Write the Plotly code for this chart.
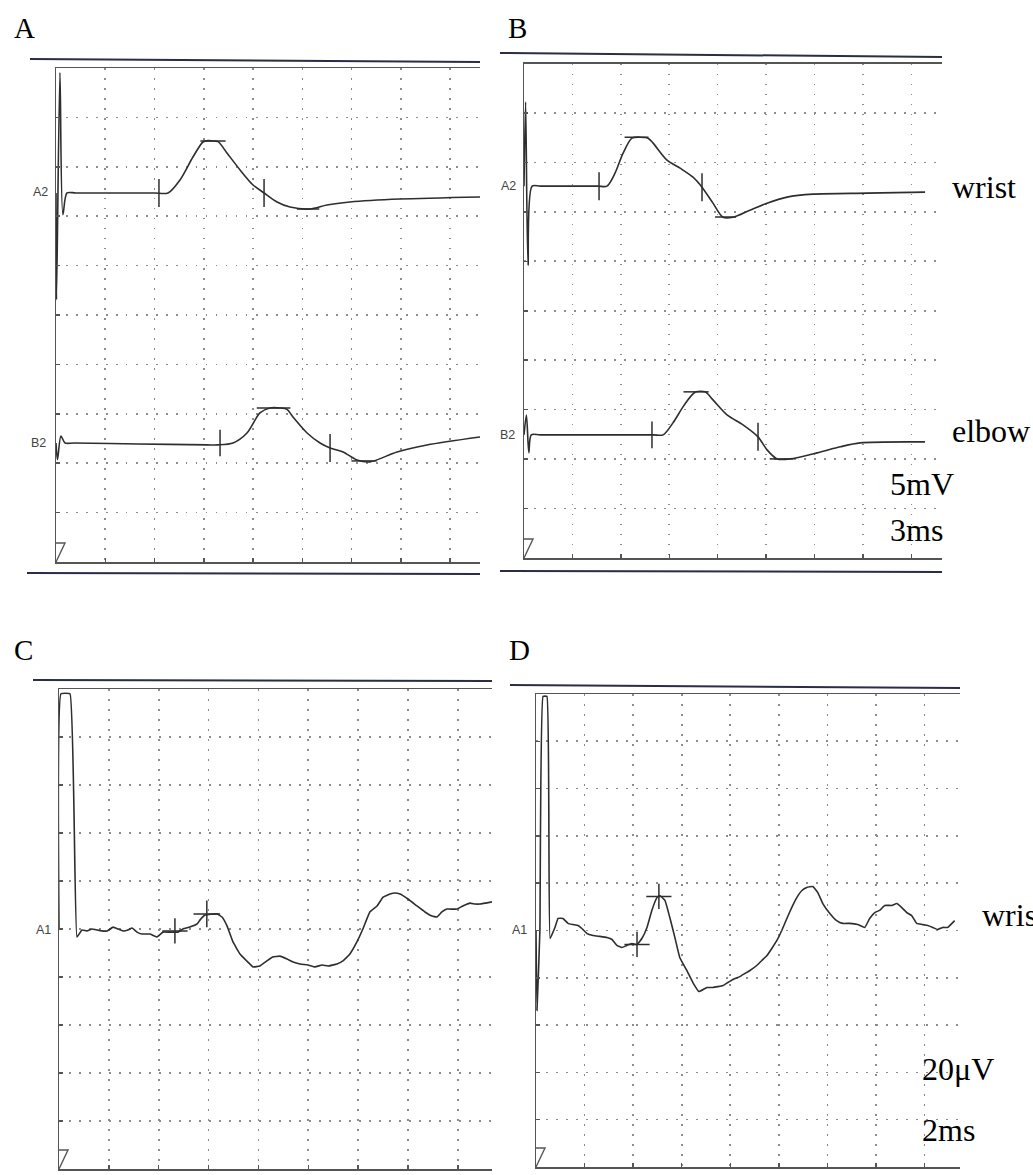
import plotly.graph_objects as go

W, H = 1033, 1175

# ---------------- data ----------------
# Panel A / B : 3 ms/div, 5 mV/div  (time in ms, amplitude in mV relative to baseline)
A_A2_t = [0, 0.03, 0.24, 0.42, 0.67, 1.2, 3.5, 6.0, 6.82, 7.55, 8.34, 8.95, 9.26, 9.56, 9.87,
          10.41, 11.21, 12.0, 12.67, 13.46, 14.25, 15.47, 16.5, 17.9, 20.95, 25.82]
A_A2_v = [0, -10.8, 12.2, -2.2, 0, 0, 0, 0, 0, 1.32, 3.64, 5.16, 5.3, 5.26, 5.2,
          4.05, 2.33, 0.81, 0, -0.91, -1.42, -1.62, -1.21, -0.91, -0.61, -0.40]
A_A2_cur_t = [6.27, 9.56, 12.67, 15.35]
A_A2_cur_v = [0, 5.26, 0, -1.62]

A_B2_t = [0, 0.09, 0.30, 0.55, 1.1, 5.0, 9.2, 9.87, 10.78, 11.63, 12.42, 13.03, 13.64, 14.07,
          14.43, 15.29, 16.08, 16.69, 17.48, 18.33, 19.12, 20.77, 22.59, 25.82]
A_B2_v = [0, -1.7, 0.7, 0, 0, -0.1, -0.2, -0.2, 0, 1.01, 3.04, 3.54, 3.54, 3.4,
          2.63, 1.01, 0, -0.51, -0.91, -1.72, -1.92, -0.91, -0.2, 0.61]
A_B2_cur_t = [9.99, 13.25, 16.69, 18.76]
A_B2_cur_v = [0, 3.54, -0.51, -1.82]

B_A2_t = [0, 0.1, 0.25, 0.5, 1.0, 3.0, 4.6, 5.14, 5.64, 6.14, 6.69, 7.19, 7.69, 8.0, 8.86, 9.67,
          10.47, 11.03, 11.71, 12.33, 12.95, 14.0, 15.06, 16.3, 17.91, 21.26, 24.85]
B_A2_v = [0, 8.5, -8.0, 0, 0, 0, 0, 0, 1.31, 3.34, 4.85, 4.95, 4.85, 4.35, 2.63, 1.82,
          0.91, -0.1, -1.72, -3.14, -3.14, -2.43, -1.72, -1.11, -0.81, -0.71, -0.61]
B_A2_cur_t = [4.65, 6.97, 11.03, 12.49]
B_A2_cur_v = [0, 4.95, -0.1, -3.13]

B_B2_t = [0, 0.15, 0.3, 0.45, 1.0, 4.5, 8.0, 8.62, 9.23, 9.85, 10.41, 10.66, 11.22, 11.71, 12.58,
          13.57, 14.5, 15.06, 15.68, 16.49, 18.16, 19.59, 20.83, 24.85]
B_B2_v = [0, 2.0, -1.8, 0, 0, 0, 0, 0, 1.21, 2.83, 4.04, 4.35, 4.35, 3.54, 2.02,
          1.01, -0.2, -1.52, -2.43, -2.43, -1.82, -1.21, -0.81, -0.71]
B_B2_cur_t = [7.93, 10.66, 14.5, 15.96]
B_B2_cur_v = [0, 4.35, -0.2, -2.43]

# Panel C / D : 2 ms/div, 20 uV/div (time in ms, amplitude in uV)
C_A1_t = [0, 0.08, 0.44, 0.72, 0.92, 1.12, 1.32, 1.52, 1.72, 1.93, 2.17, 2.37, 2.57, 2.77,
          2.93, 3.13, 3.33, 3.65, 3.93, 4.17, 4.45, 4.77, 4.97, 5.25, 5.54, 5.66, 5.86, 6.34,
          6.54, 6.74, 6.98, 7.26, 7.58, 7.78, 8.06, 8.34, 8.58, 8.86, 9.15, 9.39, 9.67, 9.99,
          10.27, 10.55, 10.79, 11.15, 11.39, 11.67, 11.95, 12.19, 12.47, 12.76, 13.0, 13.28,
          13.48, 13.68, 14.0, 14.36, 14.68, 14.96, 15.16, 15.36, 15.56, 15.96, 16.2, 16.49,
          16.69, 16.89, 17.37]
C_A1_v = [0, 98, 98, -3.3, -0.4, -0.8, 0, -0.4, -0.8, -0.8, 0.8, 0, -0.8, -0.4,
          0.4, -1.3, -2.1, -2.1, -3.3, -1.3, -1.3, -1.3, 0, 0.8, 2.1, 3.8, 5.8, 6.3,
          5.0, 1.3, -5.4, -10.4, -13.8, -15.8, -15.4, -13.3, -11.7, -11.3, -12.5, -13.8, -14.6, -15.0,
          -15.8, -15.0, -15.4, -14.6, -13.3, -10.4, -5.4, 0, 7.1, 9.6, 13.3, 14.6,
          15.0, 14.6, 12.5, 9.6, 7.1, 5.4, 5.0, 7.1, 8.3, 8.3, 9.6, 10.8,
          10.4, 10.4, 11.3]
C_cur_t = [4.65, 5.93]
C_cur_v = [-0.8, 6.3]

D_A1_t = [0, 0.04, 0.16, 0.29, 0.45, 0.58, 0.78, 0.91, 1.11, 1.32, 1.52, 1.73, 1.89, 2.10,
          2.35, 2.63, 2.92, 3.13, 3.33, 3.54, 3.74, 3.95, 4.16, 4.36, 4.57, 4.77, 4.98, 5.10,
          5.31, 5.51, 5.72, 5.92, 6.21, 6.46, 6.71, 7.04, 7.28, 7.70, 7.90, 8.11, 8.39, 8.60,
          8.81, 9.09, 9.30, 9.51, 9.71, 9.92, 10.12, 10.33, 10.53, 10.74, 10.95, 11.15, 11.40,
          11.60, 11.81, 12.10, 12.38, 12.63, 12.92, 13.25, 13.54, 13.74, 13.95, 14.15, 14.36,
          14.65, 14.86, 15.06, 15.27, 15.47, 15.68, 15.93, 16.13, 16.34, 16.54, 16.75, 16.95,
          17.24]
D_A1_v = [0, -33.8, 0, 99, 99, -3.4, 1.3, 5.1, 5.1, 3.0, 2.5, 2.1, 0.85, -1.3,
          -2.1, -2.5, -3.0, -3.8, -6.3, -7.2, -6.3, -5.5, -5.9, -3.4, 1.3, 8.5, 13.9, 14.8,
          12.7, 5.5, -3.0, -11.4, -16.9, -22.0, -25.8, -24.1, -24.1, -23.3, -22.0, -20.7, -19.5, -18.2,
          -16.9, -14.8, -12.7, -10.6, -7.6, -4.2, 0, 5.1, 9.7, 13.9, 16.9, 18.2, 18.6,
          16.1, 11.4, 7.2, 4.2, 3.0, 3.0, 2.5, 1.3, 5.1, 7.6, 8.5, 10.6,
          10.6, 11.4, 9.7, 7.6, 6.3, 3.0, 2.5, 2.1, 1.3, 0.4, 1.3, 1.3,
          4.2]
D_cur_t = [4.16, 5.06]
D_cur_v = [-5.9, 14.4]

# ---------------- layout helpers ----------------
def PX(x):
    return x / W

def PY(y):
    return 1 - y / H

TRACE = '#2e2e2e'
FRAME = '#555555'
OUTER = '#2a2d45'
GRID = '#8c8c8c'

# panel frames in pixels: left, right, top, bottom, ms/div, range x, yrange, ydtick
panels = {
    'A': dict(l=56, r=480, t=68, b=562, dt=3, xr=[0, 25.82], yr=[0, 50], dy=5),
    'B': dict(l=524, r=942, t=63.5, b=558, dt=3, xr=[0, 25.9], yr=[0, 50], dy=5),
    'C': dict(l=59, r=492, t=689, b=1169, dt=2, xr=[0, 17.37], yr=[-100, 100], dy=20),
    'D': dict(l=536, r=960, t=694, b=1167, dt=2, xr=[0, 17.46], yr=[-100, 100], dy=20),
}
# baseline offsets (mV) for the two channels of panels A and B
A_OFF = {'A2': 37.35, 'B2': 12.05}
B_OFF = {'A2': 37.6, 'B2': 12.45}

fig = go.Figure()
layout = dict(width=W, height=H, margin=dict(l=0, r=0, t=0, b=0),
              paper_bgcolor='white', plot_bgcolor='white', showlegend=False)

for i, (name, p) in enumerate(panels.items()):
    sfx = '' if i == 0 else str(i + 1)
    layout['xaxis' + sfx] = dict(
        domain=[PX(p['l']), PX(p['r'])], range=p['xr'], tick0=0, dtick=p['dt'],
        showgrid=True, gridcolor=GRID, griddash='1.5px,8.5px', gridwidth=1.6,
        zeroline=False, showline=True, linecolor=FRAME, linewidth=1.5, mirror=True,
        ticks='inside', ticklen=4, tickwidth=1.5, tickcolor=FRAME,
        showticklabels=False, anchor='y' + sfx, fixedrange=True)
    layout['yaxis' + sfx] = dict(
        domain=[PY(p['b']), PY(p['t'])], range=p['yr'], tick0=0, dtick=p['dy'],
        showgrid=True, gridcolor=GRID, griddash='1.5px,8.5px', gridwidth=1.6,
        zeroline=False, showline=True, linecolor=FRAME, linewidth=1.5, mirror=False,
        ticks='inside', ticklen=4, tickwidth=1.5, tickcolor=FRAME,
        showticklabels=False, anchor='x' + sfx, fixedrange=True)


def add_wave(t, v, off, ax, smooth):
    fig.add_trace(go.Scatter(x=t, y=[a + off for a in v], mode='lines',
                             line=dict(color=TRACE, width=1.6, shape='spline', smoothing=smooth),
                             xaxis='x' + ax, yaxis='y' + ax, hoverinfo='skip'))


def add_cursors(t, v, off, ax, symbols, sizes):
    for tt, vv, s, z in zip(t, v, symbols, sizes):
        fig.add_trace(go.Scatter(x=[tt], y=[vv + off], mode='markers',
                                 marker=dict(symbol=s, size=z, color=TRACE,
                                             line=dict(color=TRACE, width=1.5)),
                                 xaxis='x' + ax, yaxis='y' + ax, hoverinfo='skip'))

bars = ['line-ns', 'line-ew', 'line-ns', 'line-ew']
add_wave(A_A2_t, A_A2_v, A_OFF['A2'], '', 0.8)
add_cursors(A_A2_cur_t, A_A2_cur_v, A_OFF['A2'], '', bars, [20, 18, 20, 16])
add_wave(A_B2_t, A_B2_v, A_OFF['B2'], '', 0.8)
add_cursors(A_B2_cur_t, A_B2_cur_v, A_OFF['B2'], '', bars, [19, 24, 20, 18])
add_wave(B_A2_t, B_A2_v, B_OFF['A2'], '2', 0.8)
add_cursors(B_A2_cur_t, B_A2_cur_v, B_OFF['A2'], '2', bars, [20, 17, 20, 15])
add_wave(B_B2_t, B_B2_v, B_OFF['B2'], '2', 0.8)
add_cursors(B_B2_cur_t, B_B2_cur_v, B_OFF['B2'], '2', bars, [19, 18, 20, 17])
add_wave(C_A1_t, C_A1_v, 0, '3', 0.3)
add_cursors(C_cur_t, C_cur_v, 0, '3', ['cross-thin', 'cross-thin'], [18, 19])
add_wave(D_A1_t, D_A1_v, 0, '4', 0.3)
add_cursors(D_cur_t, D_cur_v, 0, '4', ['cross-thin', 'cross-thin'], [18, 18])

# ---------------- decorations ----------------
shapes = []
def hline(x0, x1, y0, y1, color=OUTER, width=2):
    shapes.append(dict(type='line', xref='paper', yref='paper', x0=PX(x0), x1=PX(x1),
                       y0=PY(y0), y1=PY(y1), line=dict(color=color, width=width)))

hline(30, 480, 59, 62)      # A top
hline(27, 480, 573, 574)    # A bottom
hline(500, 942, 53, 57)     # B top
hline(500, 942, 571, 572)   # B bottom
hline(33, 492, 680, 681)    # C top
hline(510, 960, 685, 688)   # D top

for name, p in panels.items():
    l, b = p['l'], p['b']
    path = 'M {},{} L {},{} L {},{}'.format(PX(l), PY(b - 19), PX(l + 9), PY(b - 19), PX(l), PY(b))
    shapes.append(dict(type='path', xref='paper', yref='paper', path=path,
                       line=dict(color=FRAME, width=1.4)))

layout['shapes'] = shapes

ann = []
def text(s, x, y, size, font='Liberation Serif', color='black', xanchor='left'):
    ann.append(dict(text=s, x=PX(x), y=PY(y), xref='paper', yref='paper', showarrow=False,
                    xanchor=xanchor, yanchor='middle',
                    font=dict(family=font, size=size, color=color)))

for s, x, y in [('A', 12, 28), ('B', 506, 28), ('C', 12, 650), ('D', 507, 650)]:
    text(s, x, y, 29)

for s, x, y in [('A2', 40, 192), ('B2', 38, 443), ('A2', 508, 186), ('B2', 507, 435),
                ('A1', 43, 930), ('A1', 519, 930)]:
    text(s, x, y, 12.5, font='Liberation Sans', color='#444', xanchor='center')

for s, x, y in [('wrist', 950, 187), ('elbow', 950, 431), ('5mV', 888, 484), ('3ms', 888, 530),
                ('wrist', 980, 915), ('20μV', 920, 1069), ('2ms', 920, 1130)]:
    text(s, x, y, 32)

layout['annotations'] = ann
fig.update_layout(**layout)
fig.write_html('out.html', config={'displayModeBar': False, 'staticPlot': True},
               post_script="document.body.style.margin='0';document.body.style.overflow='hidden';")
